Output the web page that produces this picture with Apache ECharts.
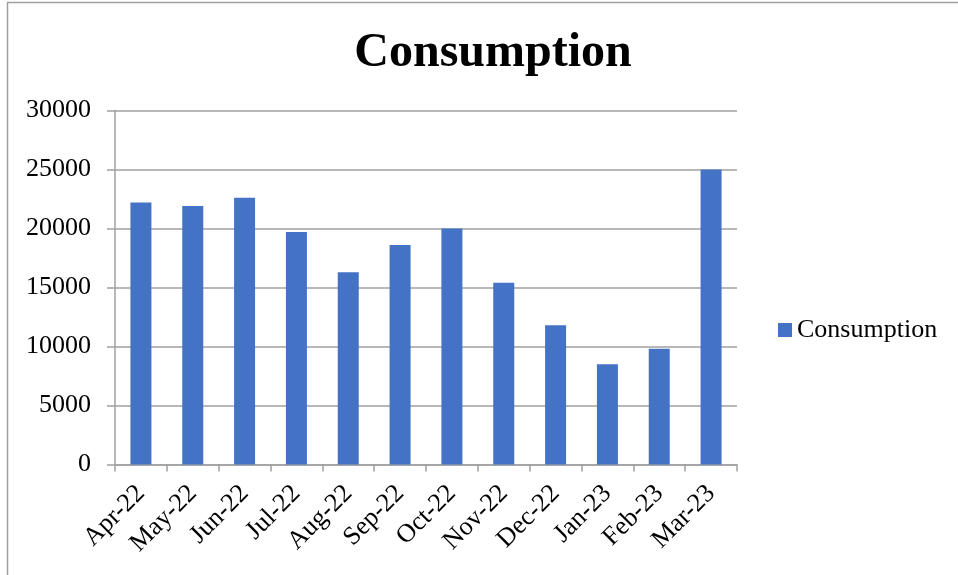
<!DOCTYPE html>
<html>
<head>
<meta charset="utf-8">
<script src="https://cdn.jsdelivr.net/npm/echarts@6/dist/echarts.min.js"></script>
<style>
html,body{margin:0;padding:0;background:#fff;}
#c{width:958px;height:575px;}
</style>
</head>
<body>
<div id="c"></div>
<script>
const categories = ['Apr-22','May-22','Jun-22','Jul-22','Aug-22','Sep-22','Oct-22','Nov-22','Dec-22','Jan-23','Feb-23','Mar-23'];
const consumption = [22200, 21900, 22600, 19700, 16300, 18600, 20000, 15400, 11800, 8500, 9800, 25000];
const yTicks = {min: 0, max: 30000, interval: 5000};
const seriesName = 'Consumption';
const titleText = 'Consumption';

const font = '"Liberation Serif", "Times New Roman", serif';
const chart = echarts.init(document.getElementById('c'), null, {renderer: 'canvas'});
chart.setOption({
  backgroundColor: '#fff',
  animation: false,
  graphic: [{
    type: 'polyline',
    shape: {points: [[7.5, 600], [7.5, 2.5], [960, 2.5]]},
    style: {stroke: '#a0a0a0', lineWidth: 1.5, fill: null},
    silent: true
  }],
  title: {
    text: titleText,
    left: 488, top: 25, textAlign: 'center',
    textStyle: {fontFamily: font, fontSize: 48, fontWeight: 'bold', color: '#000'}
  },
  legend: {
    data: [seriesName],
    left: 778, top: 317, padding: 0,
    icon: 'rect', itemWidth: 14, itemHeight: 14, itemGap: 6,
    textStyle: {fontFamily: font, fontSize: 26, color: '#000', padding: [0,0,0,0]}
  },
  grid: {left: 115, right: 221, top: 110.5, bottom: 110.5, containLabel: false},
  xAxis: {
    type: 'category',
    data: categories,
    boundaryGap: true,
    axisLine: {lineStyle: {color: '#a0a0a0', width: 1.5}},
    axisTick: {show: true, length: 7, lineStyle: {color: '#a0a0a0', width: 1.5}},
    axisLabel: {rotate: 45, margin: 25, interval: 0, fontFamily: font, fontSize: 26, color: '#000'}
  },
  yAxis: {
    type: 'value',
    min: yTicks.min, max: yTicks.max, interval: yTicks.interval,
    axisLine: {show: true, lineStyle: {color: '#a0a0a0', width: 1.5}},
    axisTick: {show: true, length: 8, lineStyle: {color: '#a0a0a0', width: 1.5}},
    splitLine: {lineStyle: {color: '#a0a0a0', width: 1.5}},
    axisLabel: {margin: 24, fontFamily: font, fontSize: 26, color: '#000', formatter: function (v) { return String(v); }}
  },
  series: [{
    name: seriesName,
    type: 'bar',
    data: consumption,
    barWidth: 21,
    itemStyle: {color: '#4472C4'}
  }]
});
</script>
</body>
</html>
